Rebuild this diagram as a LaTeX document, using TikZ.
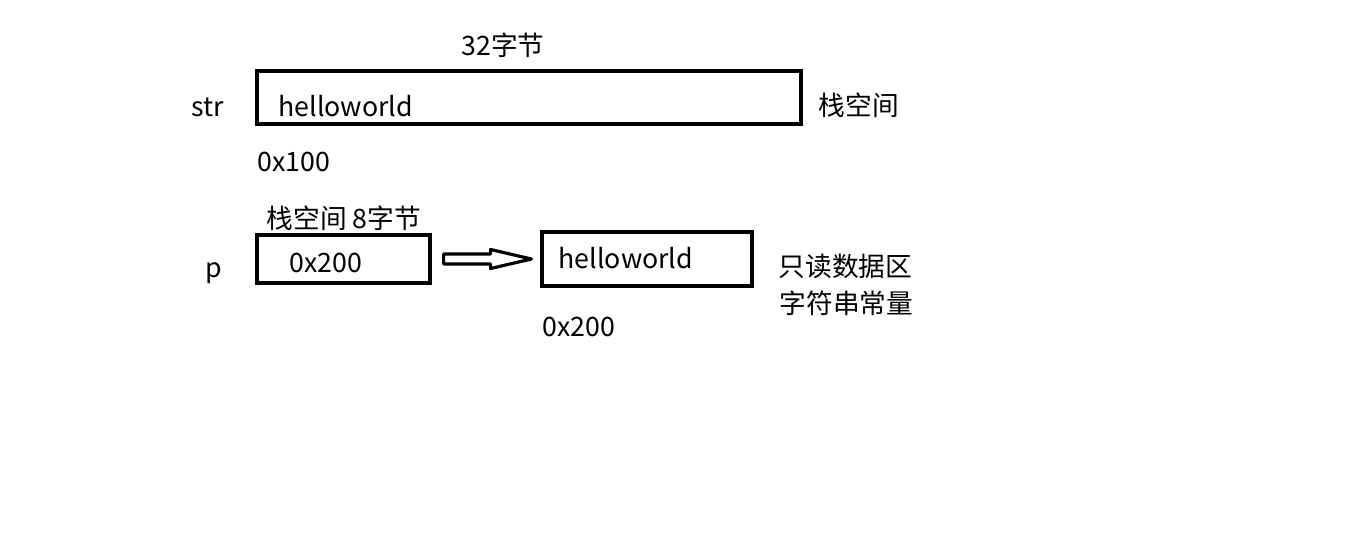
\documentclass[tikz,border=0pt]{standalone}
\usepackage{fontspec}
\setmainfont{Noto Sans CJK SC}
\usetikzlibrary{calc}

\tikzset{
  membox/.style={draw, line width=0.9pt, inner sep=0pt},
  txt/.style={inner sep=0pt, anchor=base west, font=\fontsize{7.6pt}{9pt}\selectfont},
}

\begin{document}
\begin{tikzpicture}[x=1cm,y=1cm]
    \useasboundingbox (0,0) rectangle (13.51,-5.34);

    % the array on the stack
    \node[membox, minimum width=5.44cm, minimum height=0.53cm] (strbox) at (5.29,-0.975) {};
    \node[txt] (strtext) at (2.78,-1.16) {helloworld};
    \node[txt] (strlabel) at (1.91,-1.16) {str};
    \node[txt, anchor=base] (sizelabel) at (5.03,-0.55) {32字节};
    \node[txt] (stacklabel) at (8.18,-1.15) {栈空间};
    \node[txt] (addrone) at (2.57,-1.71) {0x100};

    % the pointer on the stack
    \node[membox, minimum width=1.73cm, minimum height=0.48cm] (pbox) at (3.435,-2.59) {};
    \node[txt] (ptext) at (2.89,-2.72) {0x200};
    \node[txt] (plabel) at (2.05,-2.77) {p};
    \node[txt] (pstack) at (2.66,-2.28) {栈空间 8字节};

    % the string constant
    \node[membox, minimum width=2.10cm, minimum height=0.54cm] (robox) at (6.47,-2.59) {};
    \node[txt] (rotext) at (5.58,-2.68) {helloworld};
    \node[txt] (rolabel) at (7.78,-2.76) {只读数据区};
    \node[txt] (rokind) at (7.79,-3.13) {字符串常量};
    \node[txt] (addrtwo) at (5.42,-3.36) {0x200};

    % hollow arrow p -> string
    \draw[line width=0.9pt, line join=round]
         ($(pbox.east)+(0.12,0.05)$) -- ++(0.47,0) -- ++(0,0.045)
         -- ($(robox.west)+(-0.09,0)$)
         -- ($(pbox.east)+(0.59,-0.095)$) -- ++(0,0.045)
         -- ($(pbox.east)+(0.12,-0.05)$) -- cycle;
\end{tikzpicture}
\end{document}
